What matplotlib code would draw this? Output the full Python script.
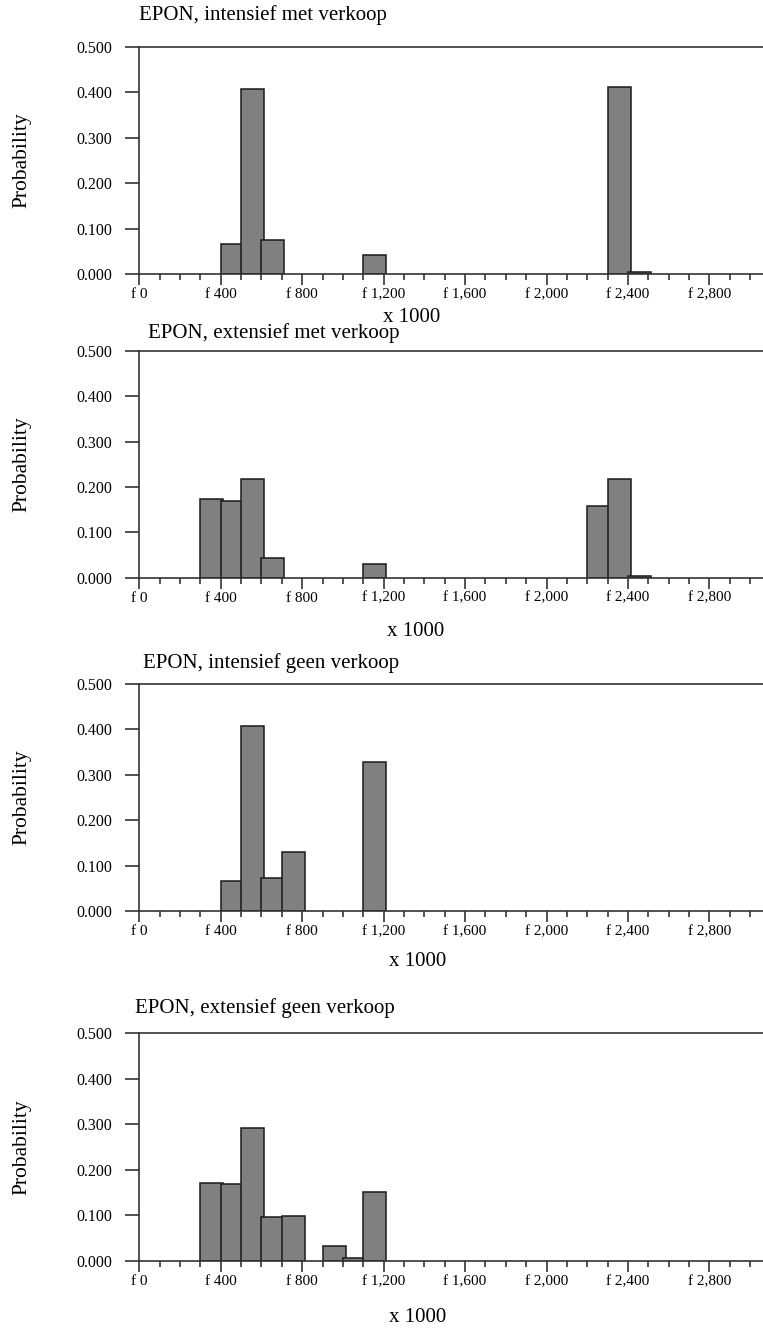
"""Probability histograms of EPON outcomes (x 1000 guilders) for four scenarios."""
import matplotlib

matplotlib.use("Agg")
import matplotlib.pyplot as plt
from matplotlib.ticker import FuncFormatter, MultipleLocator, FixedLocator

plt.rcParams["font.family"] = ["Liberation Serif", "DejaVu Serif"]

TITLES = [
    "EPON, intensief met verkoop",
    "EPON, extensief met verkoop",
    "EPON, intensief geen verkoop",
    "EPON, extensief geen verkoop",
]

# bin start (x 1000) and probability per scenario
BINS_1 = [400, 500, 600, 1100, 2300, 2400]
PROB_1 = [0.067, 0.408, 0.075, 0.042, 0.412, 0.004]

BINS_2 = [300, 400, 500, 600, 1100, 2200, 2300, 2400]
PROB_2 = [0.173, 0.169, 0.218, 0.043, 0.031, 0.158, 0.218, 0.004]

BINS_3 = [400, 500, 600, 700, 1100]
PROB_3 = [0.067, 0.408, 0.073, 0.130, 0.327]

BINS_4 = [300, 400, 500, 600, 700, 900, 1000, 1100]
PROB_4 = [0.172, 0.169, 0.292, 0.096, 0.099, 0.032, 0.007, 0.152]

BINS = [BINS_1, BINS_2, BINS_3, BINS_4]
PROBS = [PROB_1, PROB_2, PROB_3, PROB_4]

W, H = 763, 1331
# (top, bottom) of each plot area in pixels
PANELS = [(47, 274.3), (350.7, 577.7), (683.7, 911), (1033.3, 1261)]
# title (x, y) and "x 1000" label (x, y) in pixels
TITLE_POS = [(139, 15), (148, 333), (143, 663), (135, 1008)]
XL_POS = [(412, 318), (416, 632), (418, 961), (418, 1318)]

LEFT = 139.3
LINE = "#333333"
FACE = "#808080"

fig = plt.figure(figsize=(W / 100, H / 100), dpi=100)

for i, (top, bot) in enumerate(PANELS):
    ax = fig.add_axes([LEFT / W, 1 - bot / H, 1 - LEFT / W, (bot - top) / H])
    ax.bar(BINS[i], PROBS[i], width=113, align="edge", color=FACE,
           edgecolor="#1a1a1a", linewidth=1.1, zorder=3)

    ax.set_xlim(0, 3063)
    ax.set_ylim(0, 0.5)
    ax.xaxis.set_major_locator(FixedLocator(range(0, 2801, 400)))
    ax.xaxis.set_minor_locator(MultipleLocator(100))
    ax.xaxis.set_major_formatter(FuncFormatter(lambda v, _: f"f {int(v):,}"))
    ax.yaxis.set_major_locator(MultipleLocator(0.1))
    ax.yaxis.set_major_formatter(FuncFormatter(lambda v, _: f"{v:.3f}"))

    ax.spines["right"].set_visible(False)
    for s in ("left", "top", "bottom"):
        ax.spines[s].set_color(LINE)
        ax.spines[s].set_linewidth(1.2)
    ax.spines["bottom"].set_zorder(4)

    ax.tick_params(axis="y", direction="out", length=10, width=1.2, color=LINE,
                   pad=9.5, labelsize=11.5)
    ax.tick_params(axis="x", which="major", direction="out", length=8, width=1.2,
                   color=LINE, pad=2, labelsize=11)
    ax.tick_params(axis="x", which="minor", direction="out", length=4.3, width=1.2,
                   color=LINE)
    ax.tick_params(axis="y", which="minor", left=False)

    fig.text(22 / W, 1 - (top + bot) / 2 / H, "Probability", rotation=90,
             ha="center", va="center", fontsize=15.5)
    tx, ty = TITLE_POS[i]
    fig.text(tx / W, 1 - ty / H, TITLES[i], ha="left", va="center", fontsize=15)
    lx, ly = XL_POS[i]
    fig.text(lx / W, 1 - ly / H, "x 1000", ha="center", va="center", fontsize=15)

fig.savefig("out.png", dpi=100)
